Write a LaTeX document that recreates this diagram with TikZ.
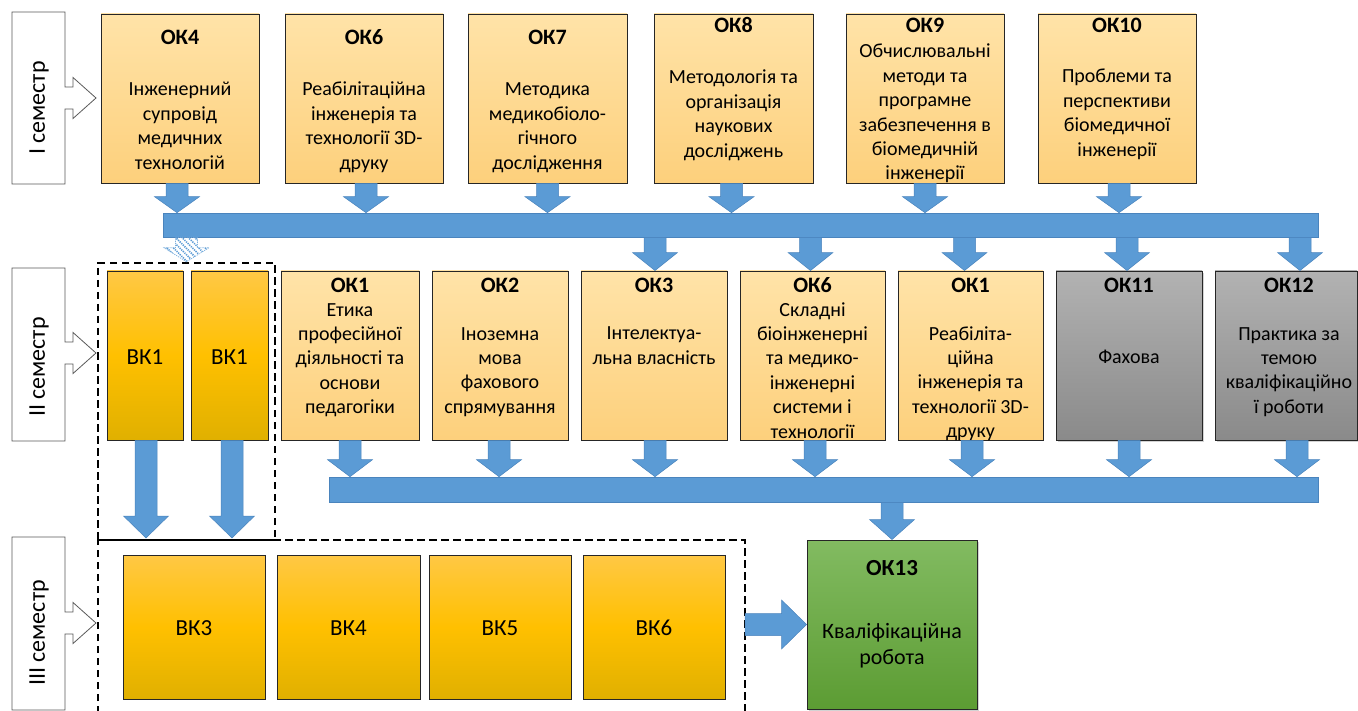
\documentclass[tikz,border=0pt]{standalone}
\usepackage{fontspec}
\setmainfont{Carlito}
\usetikzlibrary{calc,patterns.meta,shadows}

\definecolor{okTop}{HTML}{FFE3A8}
\definecolor{okBot}{HTML}{FDD07C}
\definecolor{vkTop}{HTML}{FFC845}
\definecolor{vkMid}{HTML}{FFC000}
\definecolor{vkBot}{HTML}{E0B000}
\definecolor{grTop}{HTML}{B2B2B2}
\definecolor{grBot}{HTML}{8A8A8A}
\definecolor{gnTop}{HTML}{82BB61}
\definecolor{gnBot}{HTML}{5C9C33}
\definecolor{abl}{HTML}{5B9BD5}
\definecolor{abledge}{HTML}{4A84BD}

% down block arrow: #1 style, #2 head length, #3 start, #4 tip
\newcommand\dblock[4]{\path[#1] let \p1=#3, \p2=#4 in
  (\x1-11pt,\y1) -- (\x1+11pt,\y1) -- (\x1+11pt,\y2+#2) -- (\x1+22.5pt,\y2+#2)
  -- (\x1,\y2) -- (\x1-22.5pt,\y2+#2) -- (\x1-11pt,\y2+#2) -- cycle;}
% right block arrow
\newcommand\rblock[4]{\path[#1] let \p1=#3, \p2=#4 in
  (\x1,\y1-11pt) -- (\x2-#2,\y1-11pt) -- (\x2-#2,\y1-24.5pt) -- (\x2,\y1)
  -- (\x2-#2,\y1+24.5pt) -- (\x2-#2,\y1+11pt) -- (\x1,\y1+11pt) -- cycle;}
% semester frame: #1 arrow centre y, #2 top, #3 bottom
\newcommand\semframe[3]{\draw[semfr] (12,#2) -- (65,#2) -- (65,#1-11) -- (73,#1-11)
  -- (73,#1-20.5) -- (96,#1) -- (73,#1+20.5) -- (73,#1+11) -- (65,#1+11)
  -- (65,#3) -- (12,#3) -- cycle;}

\begin{document}
\begin{tikzpicture}[x=1pt,y=-1pt,
  box/.style={draw=black!85, line width=0.9pt, inner sep=0pt},
  okbox/.style={box, top color=okTop, bottom color=okBot},
  vkbox/.style={box, top color=vkTop, bottom color=vkBot, middle color=vkMid},
  greybox/.style={box, top color=grTop, bottom color=grBot,
     drop shadow={opacity=0.35, shadow xshift=2pt, shadow yshift=-2pt}},
  greenbox/.style={box, top color=gnTop, bottom color=gnBot,
     drop shadow={opacity=0.35, shadow xshift=2pt, shadow yshift=-2pt}},
  ttl/.style={font=\bfseries\fontsize{22}{24.4}\selectfont, anchor=base, inner sep=0pt},
  bdy/.style={font=\fontsize{20}{24.4}\selectfont, align=center, anchor=base, inner sep=0pt},
  vkt/.style={font=\fontsize{23}{26}\selectfont, anchor=base, inner sep=0pt},
  bus/.style={fill=abl, draw=abledge, line width=0.6pt, inner sep=0pt},
  blockarrow/.style={fill=abl, draw=abledge, line width=0.5pt},
  hatch/.style={pattern={Lines[angle=-45,distance=4.5pt,line width=1.6pt]},
     pattern color=abl, draw=abl!80, dash pattern=on 1.2pt off 1pt, line width=0.7pt},
  grp/.style={draw=black, line width=2.5pt, dash pattern=on 7.5pt off 4.5pt},
  semfr/.style={draw=black!65, line width=0.8pt, fill=white},
  semtxt/.style={rotate=90, font=\fontsize{24}{28}\selectfont, inner sep=0pt}]

\useasboundingbox (0,0) rectangle (1358,711);

% ---------- semester labels
\semframe{98}{12}{184}
\node[semtxt] (s1) at (39,108) {I семестр};
\semframe{353}{268}{441}
\node[semtxt] (s2) at (39,367) {II семестр};
\semframe{623}{537}{710}
\node[semtxt] (s3) at (39,633) {III семестр};

% ---------- dashed groups
\node[grp, minimum width=177, minimum height=277] (grp2) at (186.5,401.5) {};
\draw[grp] (98,725) -- (98,540) -- (745,540) -- (745,725);
\draw[draw=black, line width=2.5pt] (98,540) -- (275,540);
\coordinate (g3top) at (98,538);
\coordinate (g3e) at (745,624.5);

% ---------- row 1
\node[okbox, minimum width=158, minimum height=169] (ok4) at (180,98.5) {};
\node[okbox, minimum width=158, minimum height=169] (ok6) at (364,98.5) {};
\node[okbox, minimum width=159, minimum height=169] (ok7) at (547.5,98.5) {};
\node[okbox, minimum width=159, minimum height=169] (ok8) at (733.5,98.5) {};
\node[okbox, minimum width=158, minimum height=169] (ok9) at (925,98.5) {};
\node[okbox, minimum width=158, minimum height=169] (ok10) at (1117,98.5) {};

% (multi-line nodes: base = baseline of the last line)
\node[ttl] (ok4t) at (180,44.5) {ОК4};
\node[bdy] (ok4b) at (180,169.2) {Інженерний\\супровід\\медичних\\технологій};
\node[ttl] (ok6t) at (364,44.5) {ОК6};
\node[bdy] (ok6b) at (364,169.2) {Реабілітаційна\\інженерія та\\технології 3D-\\друку};
\node[ttl] (ok7t) at (547.5,44.5) {ОК7};
\node[bdy] (ok7b) at (547.5,169.2) {Методика\\медикобіоло-\\гічного\\дослідження};
\node[ttl] (ok8t) at (733.5,32.5) {ОК8};
\node[bdy] (ok8b) at (733.5,157.2) {Методологія та\\організація\\наукових\\досліджень};
\node[ttl] (ok9t) at (925,32.5) {ОК9};
\node[bdy] (ok9b) at (925,180) {Обчислювальні\\методи та\\програмне\\забезпечення в\\біомедичній\\інженерії};
\node[ttl] (ok10t) at (1117,32.5) {ОК10};
\node[bdy] (ok10b) at (1117,156.2) {Проблеми та\\перспективи\\біомедичної\\інженерії};

% ---------- buses
\node[bus, minimum width=1155, minimum height=24] (bus1) at (740.5,225) {};
\node[bus, minimum width=989, minimum height=25] (bus2) at (823.5,489.5) {};

% ---------- row 2
\node[vkbox, minimum width=76, minimum height=169] (vk1a) at (145,355.5) {};
\node[vkbox, minimum width=77, minimum height=169] (vk1b) at (229.5,355.5) {};
\node[okbox, minimum width=138, minimum height=169] (r1) at (350,355.5) {};
\node[okbox, minimum width=136, minimum height=169] (r2) at (500,355.5) {};
\node[okbox, minimum width=146, minimum height=169] (r3) at (654,355.5) {};
\node[okbox, minimum width=145, minimum height=169] (r6) at (812.5,355.5) {};
\node[okbox, minimum width=145, minimum height=169] (r1b) at (970.5,355.5) {};
\node[greybox, minimum width=146, minimum height=169] (r11) at (1129,355.5) {};
\node[greybox, minimum width=142, minimum height=169] (r12) at (1286,355.5) {};

\node[vkt] (vk1at) at (145,364.5) {ВК1};
\node[vkt] (vk1bt) at (229.5,364.5) {ВК1};
\node[ttl] (r1t) at (350,292.5) {ОК1};
\node[bdy] (r1x) at (350,413.6) {Етика\\професійної\\діяльності та\\основи\\педагогіки};
\node[ttl] (r2t) at (500,292.5) {ОК2};
\node[bdy] (r2x) at (500,413.2) {Іноземна\\мова\\фахового\\спрямування};
\node[ttl] (r3t) at (654,292.5) {ОК3};
\node[bdy] (r3x) at (654,364.4) {Інтелектуа-\\льна власність};
\node[ttl] (r6t) at (812.5,292.5) {ОК6};
\node[bdy] (r6x) at (812.5,438) {Складні\\біоінженерні\\та медико-\\інженерні\\системи і\\технології};
\node[ttl] (r1bt) at (970.5,292.5) {ОК1};
\node[bdy] (r1bx) at (970.5,437.6) {Реабіліта-\\ційна\\інженерія та\\технології 3D-\\друку};
\node[ttl] (r11t) at (1129,292.5) {ОК11};
\node[bdy] (r11x) at (1129,364) {Фахова};
\node[ttl] (r12t) at (1289,292.5) {ОК12};
\node[bdy] (r12x) at (1289,413.2) {Практика за\\темою\\кваліфікаційно\\ї роботи};

% ---------- row 3
\node[vkbox, minimum width=142, minimum height=144] (vk3) at (194,627) {};
\node[vkbox, minimum width=143, minimum height=144] (vk4) at (348.5,627) {};
\node[vkbox, minimum width=142, minimum height=144] (vk5) at (500,627) {};
\node[vkbox, minimum width=142, minimum height=144] (vk6) at (654,627) {};
\node[vkt] (vk3t) at (194,635.5) {ВК3};
\node[vkt] (vk4t) at (348.5,635.5) {ВК4};
\node[vkt] (vk5t) at (500,635.5) {ВК5};
\node[vkt] (vk6t) at (654,635.5) {ВК6};

\node[greenbox, minimum width=170, minimum height=169] (ok13) at (892,624.5) {};
\node[ttl, font=\bfseries\fontsize{23}{26}\selectfont] (ok13t) at (892,575) {ОК13};
\node[bdy, font=\fontsize{22}{26}\selectfont] (ok13x) at (892,664) {Кваліфікаційна\\робота};

% ---------- arrows row1 -> bus1
\dblock{blockarrow}{16pt}{([xshift=-3pt]ok4.south)}{([xshift=-3pt]ok4.south |- bus1.north)}
\dblock{blockarrow}{16pt}{([xshift=2pt]ok6.south)}{([xshift=2pt]ok6.south |- bus1.north)}
\dblock{blockarrow}{16pt}{(ok7.south)}{(ok7.south |- bus1.north)}
\dblock{blockarrow}{16pt}{([xshift=-2pt]ok8.south)}{([xshift=-2pt]ok8.south |- bus1.north)}
\dblock{blockarrow}{16pt}{(ok9.south)}{(ok9.south |- bus1.north)}
\dblock{blockarrow}{16pt}{([xshift=2pt]ok10.south)}{([xshift=2pt]ok10.south |- bus1.north)}

% ---------- arrows bus1 -> row2
\dblock{hatch}{14pt}{(grp2.north |- bus1.south)}{(grp2.north)}
\dblock{blockarrow}{18pt}{([xshift=1pt]r3.north |- bus1.south)}{([xshift=1pt]r3.north)}
\dblock{blockarrow}{18pt}{([xshift=-2pt]r6.north |- bus1.south)}{([xshift=-2pt]r6.north)}
\dblock{blockarrow}{18pt}{([xshift=-6pt]r1b.north |- bus1.south)}{([xshift=-6pt]r1b.north)}
\dblock{blockarrow}{18pt}{([xshift=-2pt]r11.north |- bus1.south)}{([xshift=-2pt]r11.north)}
\dblock{blockarrow}{18pt}{([xshift=14pt]r12.north |- bus1.south)}{([xshift=14pt]r12.north)}

% ---------- arrows row2 -> bus2
\dblock{blockarrow}{17pt}{(r1.south)}{(r1.south |- bus2.north)}
\dblock{blockarrow}{17pt}{([xshift=-1pt]r2.south)}{([xshift=-1pt]r2.south |- bus2.north)}
\dblock{blockarrow}{17pt}{([xshift=1pt]r3.south)}{([xshift=1pt]r3.south |- bus2.north)}
\dblock{blockarrow}{17pt}{([xshift=2.5pt]r6.south)}{([xshift=2.5pt]r6.south |- bus2.north)}
\dblock{blockarrow}{17pt}{([xshift=1.5pt]r1b.south)}{([xshift=1.5pt]r1b.south |- bus2.north)}
\dblock{blockarrow}{17pt}{(r11.south)}{(r11.south |- bus2.north)}
\dblock{blockarrow}{17pt}{([xshift=11pt]r12.south)}{([xshift=11pt]r12.south |- bus2.north)}

% ---------- VK1 -> row 3
\dblock{blockarrow}{22pt}{([xshift=1pt]vk1a.south)}{([xshift=1pt]vk1a.south |- g3top)}
\dblock{blockarrow}{22pt}{([xshift=2.5pt]vk1b.south)}{([xshift=2.5pt]vk1b.south |- g3top)}

% ---------- bus2 -> OK13, group -> OK13
\dblock{blockarrow}{20pt}{(ok13.north |- bus2.south)}{(ok13.north)}
\rblock{blockarrow}{25pt}{(g3e)}{(ok13.west)}

\end{tikzpicture}
\end{document}
